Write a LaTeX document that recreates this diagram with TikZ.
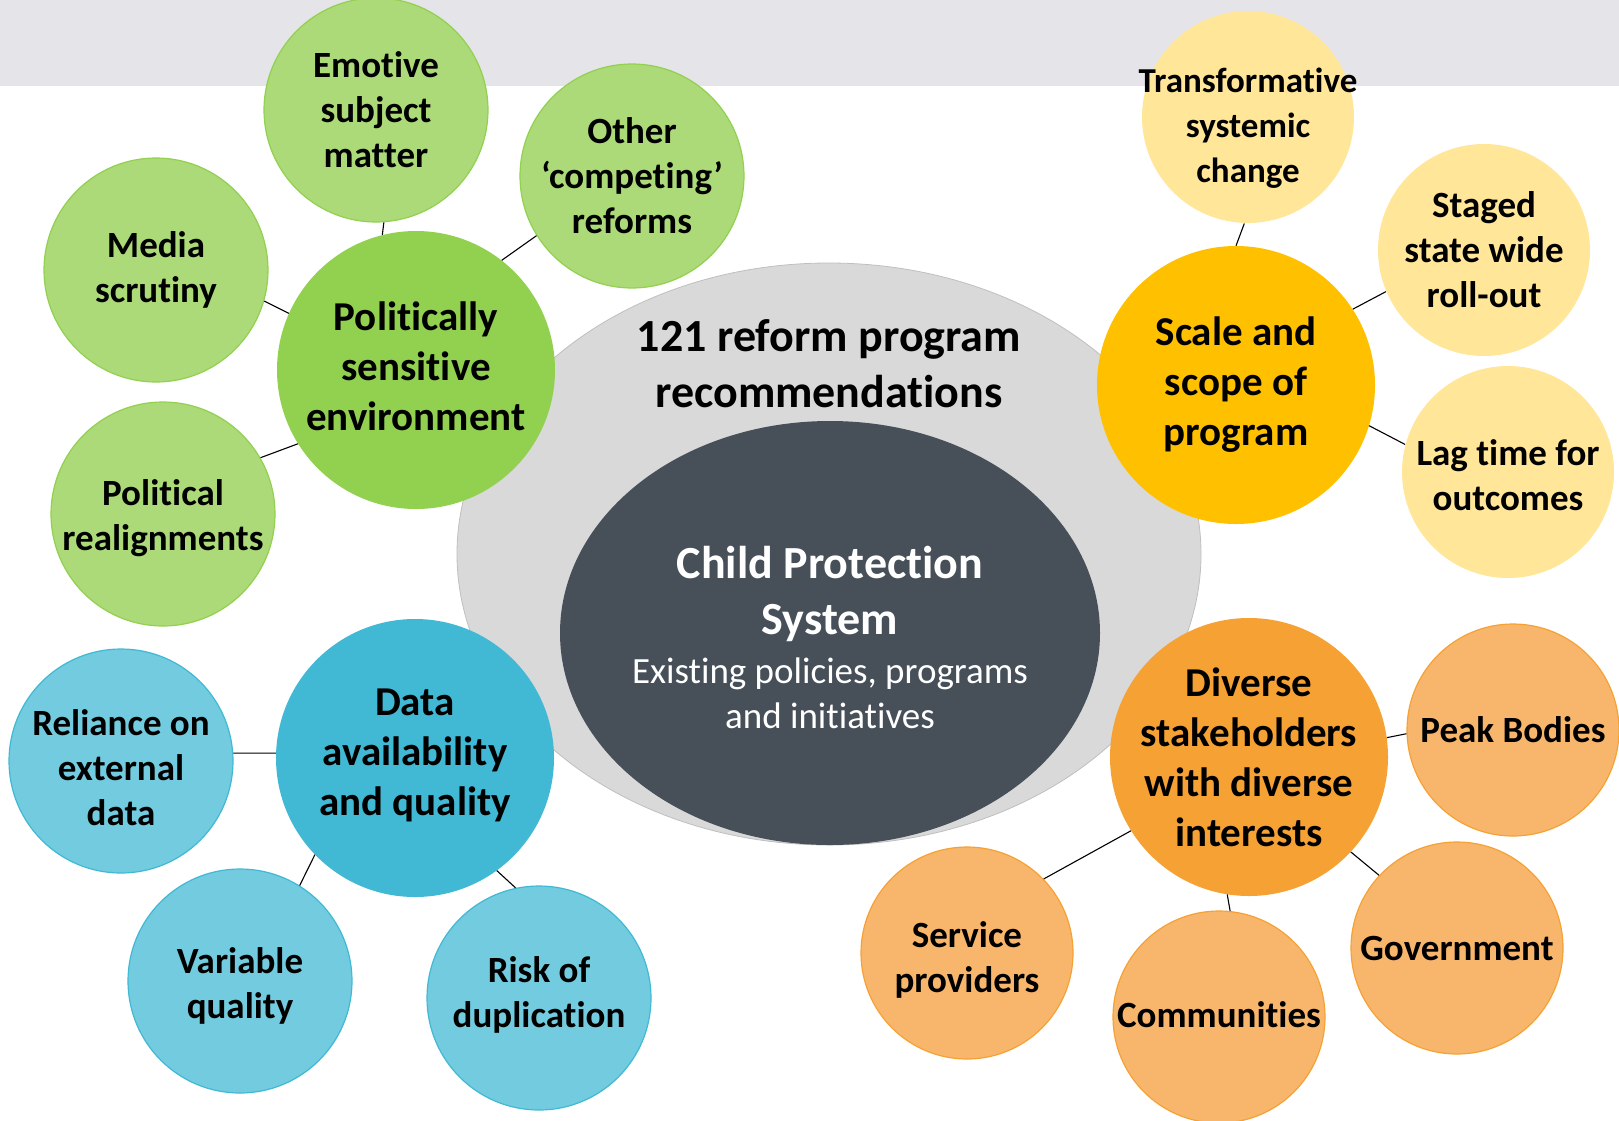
\documentclass[tikz,border=0pt]{standalone}
\usepackage{fontspec}
\setmainfont[RawFeature={-liga;-clig;-calt;-dlig}]{Carlito}
\usetikzlibrary{positioning,shapes.geometric}

\definecolor{bandgray}{HTML}{E4E4E9}
\definecolor{outergray}{HTML}{D9D9D9}
\definecolor{outeredge}{HTML}{BFBFBF}
\definecolor{innerslate}{HTML}{474F59}
\definecolor{polgreen}{HTML}{92D050}
\definecolor{polgreenlt}{HTML}{ACDA78}
\definecolor{datablue}{HTML}{41B9D4}
\definecolor{databluelt}{HTML}{72CBDE}
\definecolor{scaleyel}{HTML}{FFC000}
\definecolor{scaleyellt}{HTML}{FFE699}
\definecolor{stakeorg}{HTML}{F6A134}
\definecolor{stakeorglt}{HTML}{F8B66C}

\begin{document}
\begin{tikzpicture}[x=1pt,y=-1pt,
maincirc/.style={circle, inner sep=0pt, minimum size=278pt},
subcirc/.style={circle, inner sep=0pt, minimum size=224pt, very thick},
subcircsm/.style={circle, inner sep=0pt, minimum size=212pt, very thick},
bigtxt/.style={align=center, font=\fontsize{41}{50}\selectfont\bfseries},
smalltxt/.style={align=center, font=\fontsize{37}{45}\selectfont\bfseries},
yeltxt/.style={align=center, font=\fontsize{35}{45}\selectfont\bfseries},
link/.style={black, line width=1.1pt},
]
\useasboundingbox (0,0) rectangle (1619,1120);
\fill[bandgray] (0,0) rectangle (1619,86);

%Nodes
\node[ellipse, fill=outergray, draw=outeredge, thick, minimum width=744pt, minimum height=582pt] (outer) at (829,554) {};
\node[ellipse, fill=innerslate, minimum width=540pt, minimum height=424pt] (cps) at (830,633) {};
\node[align=center, font=\fontsize{46}{56}\selectfont\bfseries] (recs) at (829,364) {121 reform program\\recommendations};
\node[align=center, text=white, font=\fontsize{46}{56}\selectfont\bfseries] (cpstitle) at (830,594) {Child Protection\\System};
\node[align=center, text=white, font=\fontsize{37}{45}\selectfont] (cpsdesc) at (830,693) {Existing policies, programs\\and initiatives};

\node[subcirc, fill=polgreenlt, draw=polgreen, label={[smalltxt]center:Emotive\\subject\\matter}] (emotive) at (376,110) {};
\node[subcirc, fill=polgreenlt, draw=polgreen, label={[smalltxt]center:Other\\‘competing’\\reforms}] (competing) at (632,176) {};
\node[subcirc, fill=polgreenlt, draw=polgreen, label={[smalltxt]center:Media\\scrutiny}] (media) at (156,270) {};
\node[subcirc, fill=polgreenlt, draw=polgreen, label={[smalltxt,yshift=-4pt]center:Political\\realignments}] (realign) at (163,514) {};
\node[maincirc, fill=polgreen, label={[bigtxt,yshift=4pt]center:Politically\\sensitive\\environment}] (political) at (416,370) {};

\node[subcircsm, fill=scaleyellt, label={[yeltxt,yshift=-11pt]center:Transformative\\systemic\\change}] (transform) at (1248,117) {};
\node[subcircsm, fill=scaleyellt, label={[smalltxt]center:Staged\\state wide\\roll-out}] (staged) at (1484,250) {};
\node[subcircsm, fill=scaleyellt, label={[smalltxt,yshift=-3pt]center:Lag time for\\outcomes}] (lag) at (1508,472) {};
\node[maincirc, fill=scaleyel, label={[bigtxt]center:Scale and\\scope of\\program}] (scale) at (1236,385) {};

\node[subcirc, fill=databluelt, draw=datablue, label={[smalltxt,yshift=-7pt]center:Reliance on\\external\\data}] (reliance) at (121,761) {};
\node[subcirc, fill=databluelt, draw=datablue, label={[smalltxt,yshift=-5pt]center:Variable\\quality}] (variable) at (240,981) {};
\node[subcirc, fill=databluelt, draw=datablue, label={[smalltxt,yshift=3pt]center:Risk of\\duplication}] (duplic) at (539,998) {};
\node[maincirc, fill=datablue, label={[bigtxt,yshift=3pt]center:Data\\availability\\and quality}] (data) at (415,758) {};

\node[subcircsm, fill=stakeorglt, draw=stakeorg, label={[smalltxt]center:Peak Bodies}] (peak) at (1513,730) {};
\node[subcircsm, fill=stakeorglt, draw=stakeorg, label={[smalltxt]center:Government}] (govt) at (1457,948) {};
\node[subcircsm, fill=stakeorglt, draw=stakeorg, label={[smalltxt,yshift=2pt]center:Communities}] (comms) at (1219,1017) {};
\node[subcircsm, fill=stakeorglt, draw=stakeorg, label={[smalltxt,yshift=-7pt]center:Service\\providers}] (service) at (967,953) {};
\node[maincirc, fill=stakeorg, label={[bigtxt]center:Diverse\\stakeholders\\with diverse\\interests}] (diverse) at (1249,757) {};

%Lines
\draw[link] (emotive.-86) -- (political.104);
\draw[link] (competing.212) -- (political.52);
\draw[link] (media.-16) -- (political.156);
\draw[link] (realign.30) -- (political.212);
\draw[link] (transform.268) -- (scale.90);
\draw[link] (staged.203) -- (scale.33);
\draw[link] (lag.165) -- (scale.-17);
\draw[link] (reliance.4) -- (data.178);
\draw[link] (variable.58) -- (data.224);
\draw[link] (duplic.102) -- (data.-54);
\draw[link] (peak.182) -- (diverse.8);
\draw[link] (govt.137) -- (diverse.-43);
\draw[link] (comms.84) -- (diverse.261);
\draw[link] (service.44) -- (diverse.212);
\end{tikzpicture}
\end{document}
